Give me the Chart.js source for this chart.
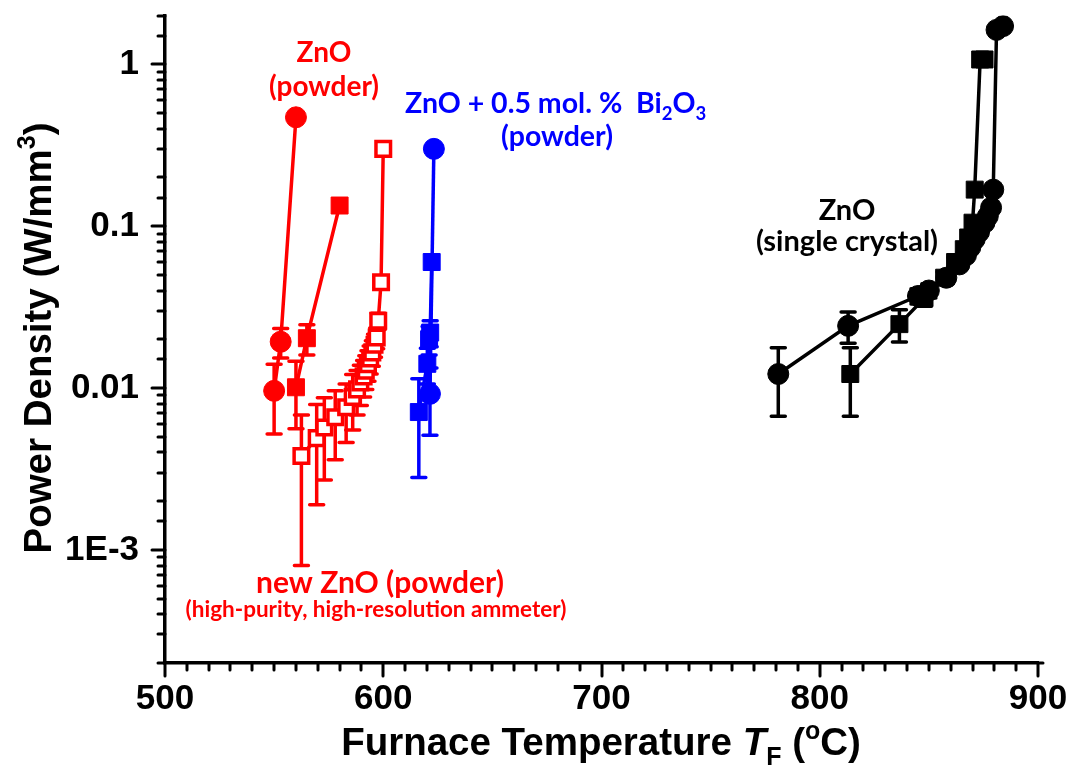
<!DOCTYPE html>
<html>
<head>
<meta charset="utf-8">
<script src="https://cdn.jsdelivr.net/npm/chart.js@4/dist/chart.umd.min.js"></script>
<style>
  body { margin: 0; background: #fff; }
  canvas { display: block; }
</style>
</head>
<body>
<canvas id="chart-area" width="1072" height="769"></canvas>
<script>
// ZnO powder (filled circles)
var powderCircT = [550, 553, 560];
var powderCircP = [0.0096, 0.0193, 0.47];
var powderCircErr = [0.0044, 0.004, 0];

// ZnO powder (filled squares)
var powderSqT = [560, 565, 580];
var powderSqP = [0.0101, 0.0203, 0.134];
var powderSqErr = [0.0045, 0.0043, 0];

// new ZnO powder (open squares)
var newZnoT = [562.5, 569.5, 573, 578, 583, 586, 588, 589.5, 591, 592, 593, 594, 595, 596, 597, 597.7, 599, 600];
var newZnoP = [0.0038, 0.0049, 0.0057, 0.0066, 0.0076, 0.0088, 0.0098, 0.0108, 0.0118, 0.0128, 0.014, 0.0152, 0.0166, 0.0185, 0.0205, 0.026, 0.045, 0.30];
var newZnoErr = [0.003, 0.003, 0.003, 0.003, 0.003, 0.0033, 0.003, 0.003, 0.003, 0.003, 0.003, 0.003, 0.003, 0.003, 0.003, 0.003, 0, 0];

// ZnO + Bi2O3 powder
var biCircT = [621.4, 623.2];
var biCircP = [0.0092, 0.30];
var biCircErr = [0.0041, 0];
var biSqT = [616.3, 620.2, 621, 621.5, 622.2];
var biSqP = [0.0071, 0.0141, 0.020, 0.022, 0.060];
var biSqErr = [0.0043, 0.0035, 0.004, 0.004, 0];

// ZnO single crystal
var xtalCircT = [781, 813, 845, 850, 858, 864, 867, 869, 871, 873, 875.5, 877, 878.5, 879.5, 881, 884];
var xtalCircP = [0.0122, 0.0242, 0.037, 0.040, 0.048, 0.058, 0.066, 0.074, 0.083, 0.092, 0.105, 0.115, 0.13, 0.168, 1.63, 1.72];
var xtalCircErr = [0.0055, 0.0053, 0.004, 0.004, 0.004, 0.004, 0, 0, 0, 0, 0, 0, 0, 0, 0, 0];
var xtalSqT = [814, 836.5, 848, 857, 862, 866, 868, 870, 871, 873.5, 875.5];
var xtalSqP = [0.0122, 0.0248, 0.036, 0.048, 0.060, 0.072, 0.085, 0.105, 0.168, 1.07, 1.07];
var xtalSqErr = [0.0055, 0.0056, 0.004, 0.004, 0.004, 0, 0, 0, 0, 0, 0];

// axis ticks
var xLabelValues = [500, 600, 700, 800, 900];
var yTickValues = [1, 0.1, 0.01, 0.001];
var yTickText = ['1', '0.1', '0.01', '1E-3'];

var RED = '#ff0000', BLUE = '#0000ff', BLACK = '#000000';

function pts(xs, ys) {
	var out = [];
	for (var i = 0; i < xs.length; i++) {
		out.push({ x: xs[i], y: ys[i] });
	}
	return out;
}

function series(xs, ys, errs, color, shape, open) {
	var sq = shape === 'rect';
	return {
		data: pts(xs, ys),
		errors: errs,
		showLine: true,
		borderColor: color,
		borderWidth: 3.5,
		pointStyle: shape,
		pointRadius: sq ? (open ? 10.3 : 12) : 10.5,
		pointBorderWidth: open ? 3.5 : 1,
		pointBackgroundColor: open ? '#ffffff' : color,
		pointBorderColor: color,
		pointHoverRadius: sq ? 12 : 10.5,
		tension: 0
	};
}

function isMajorY(v) {
	for (var i = 0; i < yTickValues.length; i++) {
		if (Math.abs(Math.log10(v) - Math.log10(yTickValues[i])) < 1e-6) return i;
	}
	return -1;
}

// vertical error bars, drawn under the markers
var errorBars = {
	id: 'errorBars',
	beforeDatasetsDraw: function (chart) {
		var ctx = chart.ctx, xs = chart.scales.x, ys = chart.scales.y;
		chart.data.datasets.forEach(function (ds) {
			if (!ds.errors) return;
			ctx.save();
			ctx.strokeStyle = ds.borderColor;
			ctx.lineWidth = 3.5;
			ctx.lineCap = 'round';
			ds.data.forEach(function (p, j) {
				var e = ds.errors[j];
				if (!e) return;
				var px = xs.getPixelForValue(p.x);
				var top = ys.getPixelForValue(p.y + e);
				var bot = ys.getPixelForValue(p.y - e);
				ctx.beginPath();
				ctx.moveTo(px, top); ctx.lineTo(px, bot);
				ctx.moveTo(px - 7, top); ctx.lineTo(px + 7, top);
				ctx.moveTo(px - 7, bot); ctx.lineTo(px + 7, bot);
				ctx.stroke();
			});
			ctx.restore();
		});
	}
};

// outward tick marks, long on labelled values
var tickMarks = {
	id: 'tickMarks',
	afterDraw: function (chart) {
		var ctx = chart.ctx, area = chart.chartArea;
		var xs = chart.scales.x, ys = chart.scales.y;
		ctx.save();
		ctx.strokeStyle = BLACK;
		ctx.lineWidth = 3;
		ctx.lineCap = 'round';
		ctx.beginPath();
		ys.ticks.forEach(function (t) {
			var py = Math.round(ys.getPixelForValue(t.value));
			var len = isMajorY(t.value) >= 0 ? 13 : 7;
			ctx.moveTo(area.left - len, py);
			ctx.lineTo(area.left, py);
		});
		xs.ticks.forEach(function (t) {
			var px = Math.round(xs.getPixelForValue(t.value));
			var len = xLabelValues.indexOf(t.value) >= 0 ? 13 : 7;
			ctx.moveTo(px, area.bottom);
			ctx.lineTo(px, area.bottom + len);
		});
		// axis line runs a little past the last label
		ctx.moveTo(area.right, area.bottom);
		ctx.lineTo(area.right + 5, area.bottom);
		ctx.stroke();
		ctx.restore();
	}
};

// draws a run of text pieces; each piece may be sub/sup/italic
function drawRich(ctx, parts, x, y, align, size, family, color) {
	var widths = [], total = 0;
	parts.forEach(function (p) {
		var fs = p.mode === 'sub' || p.mode === 'sup' ? size * 0.65 : size;
		ctx.font = (p.italic ? 'italic ' : '') + 'bold ' + fs + 'px ' + family;
		var w = ctx.measureText(p.t).width;
		widths.push(w);
		total += w;
	});
	var cx = align === 'center' ? x - total / 2 : x;
	ctx.fillStyle = color;
	ctx.textAlign = 'left';
	ctx.textBaseline = 'alphabetic';
	parts.forEach(function (p, i) {
		var fs = p.mode === 'sub' || p.mode === 'sup' ? size * 0.65 : size;
		var dy = p.mode === 'sub' ? size * 0.25 : (p.mode === 'sup' ? -size * 0.42 : 0);
		ctx.font = (p.italic ? 'italic ' : '') + 'bold ' + fs + 'px ' + family;
		ctx.fillText(p.t, cx, y + dy);
		cx += widths[i];
	});
}

var LABEL_FONT = 'Lato, "Open Sans", sans-serif';
var AXIS_FONT = '"Liberation Sans", Arial, sans-serif';

var annotations = {
	id: 'annotations',
	afterDraw: function (chart) {
		var ctx = chart.ctx;
		ctx.save();
		drawRich(ctx, [{ t: 'ZnO' }], 324, 62, 'center', 28, LABEL_FONT, RED);
		drawRich(ctx, [{ t: '(powder)' }], 324, 96, 'center', 28, LABEL_FONT, RED);

		drawRich(ctx, [{ t: 'ZnO + 0.5 mol. %  Bi' }, { t: '2', mode: 'sub' }, { t: 'O' }, { t: '3', mode: 'sub' }],
			405, 113, 'left', 28.5, LABEL_FONT, BLUE);
		drawRich(ctx, [{ t: '(powder)' }], 557, 146, 'center', 28.5, LABEL_FONT, BLUE);

		drawRich(ctx, [{ t: 'ZnO' }], 847, 220, 'center', 29, LABEL_FONT, BLACK);
		drawRich(ctx, [{ t: '(single crystal)' }], 847, 251, 'center', 29, LABEL_FONT, BLACK);

		drawRich(ctx, [{ t: 'new ZnO (powder)' }], 380, 593, 'center', 30, LABEL_FONT, RED);
		drawRich(ctx, [{ t: '(high-purity, high-resolution ammeter)' }], 376, 617, 'center', 22.5, LABEL_FONT, RED);

		// axis titles
		drawRich(ctx, [{ t: 'Furnace Temperature ' }, { t: 'T', italic: true }, { t: 'F', mode: 'sub' }, { t: ' (' }, { t: 'o', mode: 'sup' }, { t: 'C)' }],
			601, 755, 'center', 38.5, AXIS_FONT, BLACK);
		ctx.translate(51, 338);
		ctx.rotate(-Math.PI / 2);
		drawRich(ctx, [{ t: 'Power Density (W/mm' }, { t: '3', mode: 'sup' }, { t: ')' }],
			0, 0, 'center', 38.5, AXIS_FONT, BLACK);
		ctx.restore();
	}
};

var config = {
	type: 'scatter',
	data: {
		datasets: [
			series(powderCircT, powderCircP, powderCircErr, RED, 'circle', false),
			series(powderSqT, powderSqP, powderSqErr, RED, 'rect', false),
			series(newZnoT, newZnoP, newZnoErr, RED, 'rect', true),
			series(biSqT, biSqP, biSqErr, BLUE, 'rect', false),
			series(biCircT, biCircP, biCircErr, BLUE, 'circle', false),
			series(xtalSqT, xtalSqP, xtalSqErr, BLACK, 'rect', false),
			series(xtalCircT, xtalCircP, xtalCircErr, BLACK, 'circle', false)
		]
	},
	options: {
		responsive: false,
		animation: false,
		devicePixelRatio: 1,
		layout: { padding: { left: 0, top: 15, right: 34, bottom: 0 } },
		plugins: {
			legend: { display: false },
			tooltip: { enabled: false }
		},
		scales: {
			x: {
				type: 'linear',
				min: 500,
				max: 900,
				grid: { display: false, drawTicks: false },
				border: { display: true, color: BLACK, width: 3.5 },
				ticks: {
					stepSize: 10,
					autoSkip: false,
					maxRotation: 0,
					padding: 15,
					color: BLACK,
					font: { family: AXIS_FONT, size: 35, weight: 'bold' },
					callback: function (v) {
						return xLabelValues.indexOf(v) >= 0 ? String(v) : '';
					}
				},
				afterFit: function (scale) {
					scale.height = 106;
					scale.paddingLeft = 0;
					scale.paddingRight = 0;
				}
			},
			y: {
				type: 'logarithmic',
				min: 2e-4,
				max: 2,
				grid: { display: false, drawTicks: false },
				border: { display: true, color: BLACK, width: 3.5 },
				ticks: {
					autoSkip: false,
					padding: 26,
					color: BLACK,
					font: { family: AXIS_FONT, size: 35, weight: 'bold' },
					callback: function (v) {
						var i = isMajorY(v);
						return i >= 0 ? yTickText[i] : '';
					}
				},
				afterFit: function (scale) {
					scale.width = 165;
					scale.paddingTop = 0;
					scale.paddingBottom = 0;
				}
			}
		}
	},
	plugins: [errorBars, tickMarks, annotations]
};

window.myChart = new Chart(document.getElementById('chart-area').getContext('2d'), config);
</script>
</body>
</html>
